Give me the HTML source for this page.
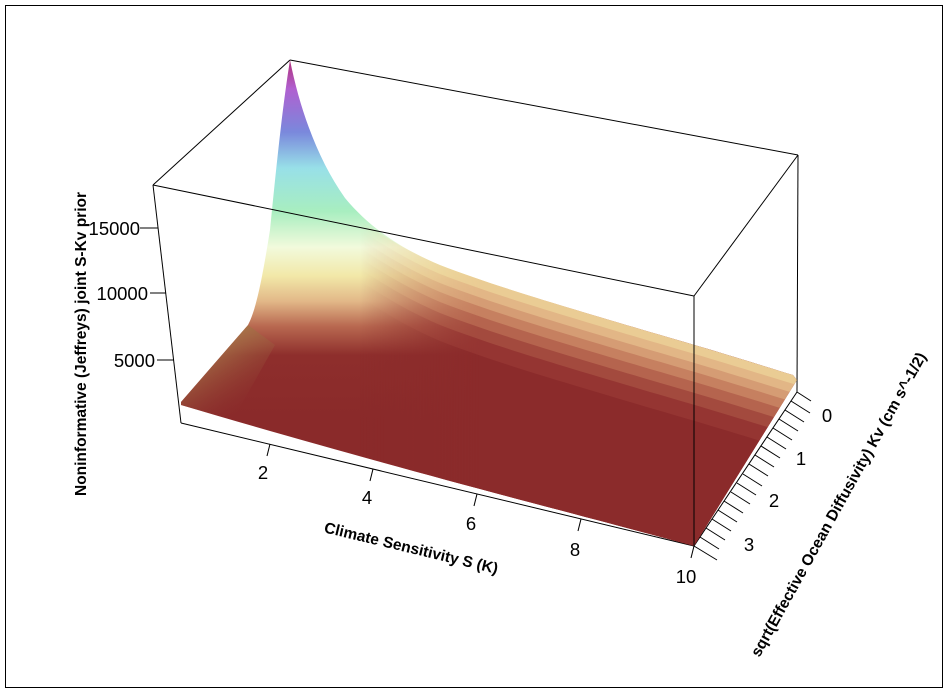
<!DOCTYPE html>
<html><head><meta charset="utf-8"><style>
html,body{margin:0;padding:0;background:#fff}
svg{display:block}
text{font-family:"Liberation Sans",Arial,sans-serif}
</style></head><body>
<svg width="949" height="693" viewBox="0 0 949 693" xmlns="http://www.w3.org/2000/svg">
<defs>
<linearGradient id="vg" gradientUnits="userSpaceOnUse" x1="0" y1="60" x2="0" y2="420">
<stop offset="0" stop-color="#b0307a"/>
<stop offset="0.08" stop-color="#b060d0"/>
<stop offset="0.2" stop-color="#7a88dc"/>
<stop offset="0.3" stop-color="#98e0e8"/>
<stop offset="0.42" stop-color="#a8eec0"/>
<stop offset="0.52" stop-color="#f2fadc"/>
<stop offset="0.6" stop-color="#f2e8a8"/>
<stop offset="0.67" stop-color="#e2b888"/>
<stop offset="0.74" stop-color="#b86850"/>
<stop offset="0.82" stop-color="#8e2e2c"/>
<stop offset="1" stop-color="#8a2a2a"/>
</linearGradient>
<linearGradient id="bz" gradientUnits="userSpaceOnUse" x1="200" y1="350" x2="240" y2="410">
<stop offset="0" stop-color="#a8784a"/>
<stop offset="1" stop-color="#8e3a30" stop-opacity="0"/>
</linearGradient>
<linearGradient id="mg" gradientUnits="userSpaceOnUse" x1="360" y1="0" x2="480" y2="0">
<stop offset="0" stop-color="#000"/>
<stop offset="1" stop-color="#fff"/>
</linearGradient>
<mask id="mk"><rect x="0" y="0" width="949" height="693" fill="url(#mg)"/></mask>
<clipPath id="surf"><path d="M181,402 L248,325 C256,310 262,280 270,230 C276,170 282,110 290,60 C300,110 318,160 345,198 C370,228 400,248 440,265 C500,288 560,305 650,332 C720,352 760,365 793,375 L797,380 L694,546 C600,520 400,470 181,405 Z"/></clipPath>
</defs>
<rect x="5.5" y="5.5" width="937" height="682" fill="#fff" stroke="#000" stroke-width="1"/>
<g stroke="#000" stroke-width="1" fill="none">
<line x1="153" y1="185" x2="290" y2="60"/>
<line x1="290" y1="60" x2="798" y2="155"/>
<line x1="798" y1="155" x2="694" y2="296"/>
<line x1="798" y1="155" x2="797" y2="392"/>
<line x1="181" y1="423" x2="694" y2="546"/>
<line x1="694" y1="546" x2="797" y2="392"/>
<line x1="153" y1="185" x2="181" y2="423"/>
</g>
<g clip-path="url(#surf)">
<rect x="150" y="50" width="700" height="520" fill="url(#vg)"/>
<g mask="url(#mk)">
<path transform="translate(0,0)" d="M330,200 C370,228 400,248 440,265 C500,288 560,305 650,332 C720,352 760,365 820,383 L820,600 L330,600 Z" fill="#eacc94"/>
<path transform="translate(0,9)" d="M330,200 C370,228 400,248 440,265 C500,288 560,305 650,332 C720,352 760,365 820,383 L820,600 L330,600 Z" fill="#e2b686"/>
<path transform="translate(0,18)" d="M330,200 C370,228 400,248 440,265 C500,288 560,305 650,332 C720,352 760,365 820,383 L820,600 L330,600 Z" fill="#d59c74"/>
<path transform="translate(0,27)" d="M330,200 C370,228 400,248 440,265 C500,288 560,305 650,332 C720,352 760,365 820,383 L820,600 L330,600 Z" fill="#c68060"/>
<path transform="translate(0,37)" d="M330,200 C370,228 400,248 440,265 C500,288 560,305 650,332 C720,352 760,365 820,383 L820,600 L330,600 Z" fill="#b5644e"/>
<path transform="translate(0,48)" d="M330,200 C370,228 400,248 440,265 C500,288 560,305 650,332 C720,352 760,365 820,383 L820,600 L330,600 Z" fill="#a34a3e"/>
<path transform="translate(0,60)" d="M330,200 C370,228 400,248 440,265 C500,288 560,305 650,332 C720,352 760,365 820,383 L820,600 L330,600 Z" fill="#953532"/>
<path transform="translate(0,76)" d="M330,200 C370,228 400,248 440,265 C500,288 560,305 650,332 C720,352 760,365 820,383 L820,600 L330,600 Z" fill="#8b2b2b"/>
</g>
<polygon points="176,406 248,325 275,345 230,425" fill="url(#bz)"/>
</g>
<g stroke="#000" stroke-width="1" fill="none">
<line x1="153" y1="185" x2="694" y2="296"/>
<line x1="694" y1="296" x2="694" y2="546"/>
</g>
<g stroke="#000" stroke-width="1">
<line x1="140" y1="228" x2="158" y2="228"/>
<line x1="150" y1="293" x2="166" y2="293"/>
<line x1="157" y1="360" x2="174" y2="360"/>
</g>
<g font-size="18.5" text-anchor="end" fill="#000">
<text x="140" y="235">15000</text>
<text x="148" y="300">10000</text>
<text x="155" y="367">5000</text>
</g>
<text transform="translate(86,344) rotate(-90)" font-size="15.5" font-weight="bold" text-anchor="middle">Noninformative (Jeffreys) joint S-Kv prior</text>
<g stroke="#000" stroke-width="1">
<line x1="270" y1="444" x2="267" y2="456"/>
<line x1="373" y1="469" x2="370" y2="481"/>
<line x1="477" y1="494" x2="474" y2="506"/>
<line x1="581" y1="519" x2="578" y2="531"/>
<line x1="694" y1="546" x2="691" y2="558"/>
</g>
<g font-size="18.5" text-anchor="middle">
<text x="263" y="479">2</text>
<text x="367" y="504">4</text>
<text x="471" y="530">6</text>
<text x="575" y="556">8</text>
<text x="686" y="583">10</text>
</g>
<text transform="translate(410,553) rotate(13.5)" font-size="15.5" font-weight="bold" text-anchor="middle">Climate Sensitivity S (K)</text>
<g stroke="#000" stroke-width="1">
<line x1="797" y1="392" x2="811" y2="401"/>
<line x1="791" y1="401" x2="810" y2="413"/>
<line x1="785" y1="410" x2="804" y2="422"/>
<line x1="779" y1="419" x2="798" y2="431"/>
<line x1="773" y1="428" x2="792" y2="440"/>
<line x1="767" y1="437" x2="786" y2="449"/>
<line x1="761" y1="446" x2="780" y2="458"/>
<line x1="755" y1="455" x2="774" y2="467"/>
<line x1="749" y1="464" x2="768" y2="476"/>
<line x1="743" y1="474" x2="762" y2="486"/>
<line x1="737" y1="483" x2="756" y2="495"/>
<line x1="731" y1="492" x2="750" y2="504"/>
<line x1="724" y1="501" x2="743" y2="513"/>
<line x1="718" y1="510" x2="737" y2="522"/>
<line x1="712" y1="519" x2="731" y2="531"/>
<line x1="706" y1="528" x2="725" y2="540"/>
<line x1="700" y1="537" x2="719" y2="549"/>
<line x1="694" y1="546" x2="717" y2="560"/>
</g>
<g font-size="18.5" text-anchor="middle">
<text x="827" y="422">0</text>
<text x="801" y="465">1</text>
<text x="774" y="507">2</text>
<text x="749" y="551">3</text>
</g>
<text transform="translate(843,507) rotate(-61)" font-size="15.5" font-weight="bold" text-anchor="middle">sqrt(Effective Ocean Diffusivity) Kv (cm s^-1/2)</text>
</svg>
</body></html>
